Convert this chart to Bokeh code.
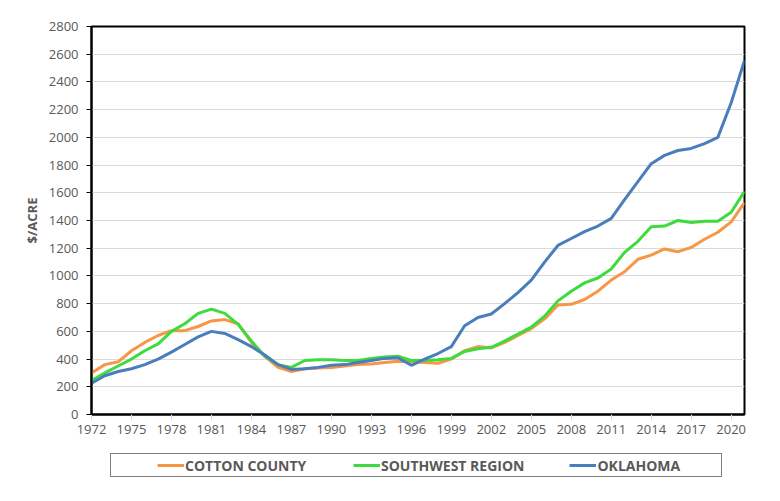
from bokeh.plotting import figure
from bokeh.layouts import column
from bokeh.models import Range1d, FixedTicker, Legend, LegendItem
from bokeh.embed import file_html
from bokeh.resources import INLINE

years = list(range(1972, 2022))
cotton = [300, 360, 380, 460, 520, 570, 605, 605, 635, 675,
          685, 655, 520, 420, 340, 310, 330, 335, 340, 350,
          360, 365, 375, 385, 380, 375, 370, 400, 460, 490,
          480, 520, 570, 620, 690, 790, 795, 830, 890, 970,
          1030, 1120, 1150, 1195, 1175, 1205, 1265, 1315, 1390, 1530]
southwest = [245, 300, 350, 400, 460, 510, 600, 655, 730, 760,
             730, 650, 530, 420, 360, 340, 390, 395, 395, 390,
             390, 405, 415, 420, 390, 390, 395, 405, 455, 475,
             485, 530, 580, 630, 710, 820, 890, 950, 985, 1050,
             1170, 1250, 1355, 1360, 1400, 1385, 1395, 1395, 1460, 1610]
oklahoma = [225, 280, 310, 330, 360, 400, 450, 505, 560, 600,
            585, 540, 490, 430, 360, 325, 330, 340, 355, 360,
            375, 390, 405, 410, 355, 400, 440, 490, 640, 700,
            725, 800, 880, 970, 1100, 1220, 1270, 1320, 1360, 1415,
            1550, 1680, 1810, 1870, 1905, 1920, 1955, 2000, 2250, 2555]
series = [cotton, southwest, oklahoma]
series_names = ["COTTON COUNTY", "SOUTHWEST REGION", "OKLAHOMA"]
series_colors = ["#F79646", "#3EDB3E", "#4A7DBD"]
x_ticks = list(range(1972, 2021, 3))
y_ticks = list(range(0, 2801, 200))

FONT = "Open Sans"
GREY = "#595959"

p = figure(width=780, height=450, x_range=Range1d(1972, 2021), y_range=Range1d(0, 2800),
           output_backend="svg", toolbar_location=None,
           min_border_left=91, min_border_right=36, min_border_top=26, min_border_bottom=36)
p.outline_line_color = "black"
p.outline_line_width = 2

for vals, col in zip(series, series_colors):
    p.line(years, vals, line_color=col, line_width=3)

# axes
p.yaxis.ticker = FixedTicker(ticks=y_ticks)
p.yaxis.minor_tick_line_color = None
p.yaxis.major_tick_out = 5
p.yaxis.major_tick_in = 0
p.yaxis.major_tick_line_color = "black"
p.yaxis.axis_line_color = "black"
p.yaxis.axis_line_width = 2
p.yaxis.major_label_standoff = 8
p.yaxis.major_label_text_font = FONT
p.yaxis.major_label_text_font_size = "13px"
p.yaxis.major_label_text_color = GREY
p.yaxis.axis_label = "$/ACRE"
p.yaxis.axis_label_text_font = FONT
p.yaxis.axis_label_text_font_style = "bold"
p.yaxis.axis_label_text_font_size = "13px"
p.yaxis.axis_label_text_color = GREY
p.yaxis.axis_label_standoff = 5

p.xaxis.ticker = FixedTicker(ticks=x_ticks)
p.xaxis.minor_tick_line_color = None
p.xaxis.major_tick_out = 6
p.xaxis.major_tick_in = 0
p.xaxis.major_tick_line_color = "#d9d9d9"
p.xaxis.axis_line_color = "black"
p.xaxis.axis_line_width = 2
p.xaxis.major_label_standoff = 4
p.xaxis.major_label_text_font = FONT
p.xaxis.major_label_text_font_size = "13px"
p.xaxis.major_label_text_color = GREY

p.xgrid.visible = False
p.ygrid.ticker = FixedTicker(ticks=y_ticks)
p.ygrid.grid_line_color = "#d9d9d9"
p.ygrid.grid_line_width = 1

# legend strip (separate figure below; its lines lie outside its visible range)
pl = figure(width=780, height=50, x_range=Range1d(1972, 2021), y_range=Range1d(-20, -10),
            output_backend="svg", toolbar_location=None,
            x_axis_location=None, y_axis_location=None,
            min_border_left=0, min_border_right=0, min_border_top=0, min_border_bottom=0)
pl.grid.visible = False
pl.outline_line_color = None
leg_renderers = [pl.line(years, vals, line_color=col, line_width=3)
                 for vals, col in zip(series, series_colors)]

legend = Legend(items=[LegendItem(label=n, renderers=[r]) for n, r in zip(series_names, leg_renderers)],
                location=(19, 23), orientation="horizontal",
                title=" ", title_location="left", title_standoff=40,
                title_text_font_size="4px",
                glyph_width=27, glyph_height=20, label_height=20, label_width=123,
                label_standoff=1, spacing=45,
                padding=1, margin=0, border_line_color="black", border_line_width=1,
                background_fill_alpha=0,
                label_text_font=FONT, label_text_font_style="bold",
                label_text_font_size="14px", label_text_color=GREY)
pl.add_layout(legend)

open("out.html", "w").write(file_html(column(p, pl), INLINE))
